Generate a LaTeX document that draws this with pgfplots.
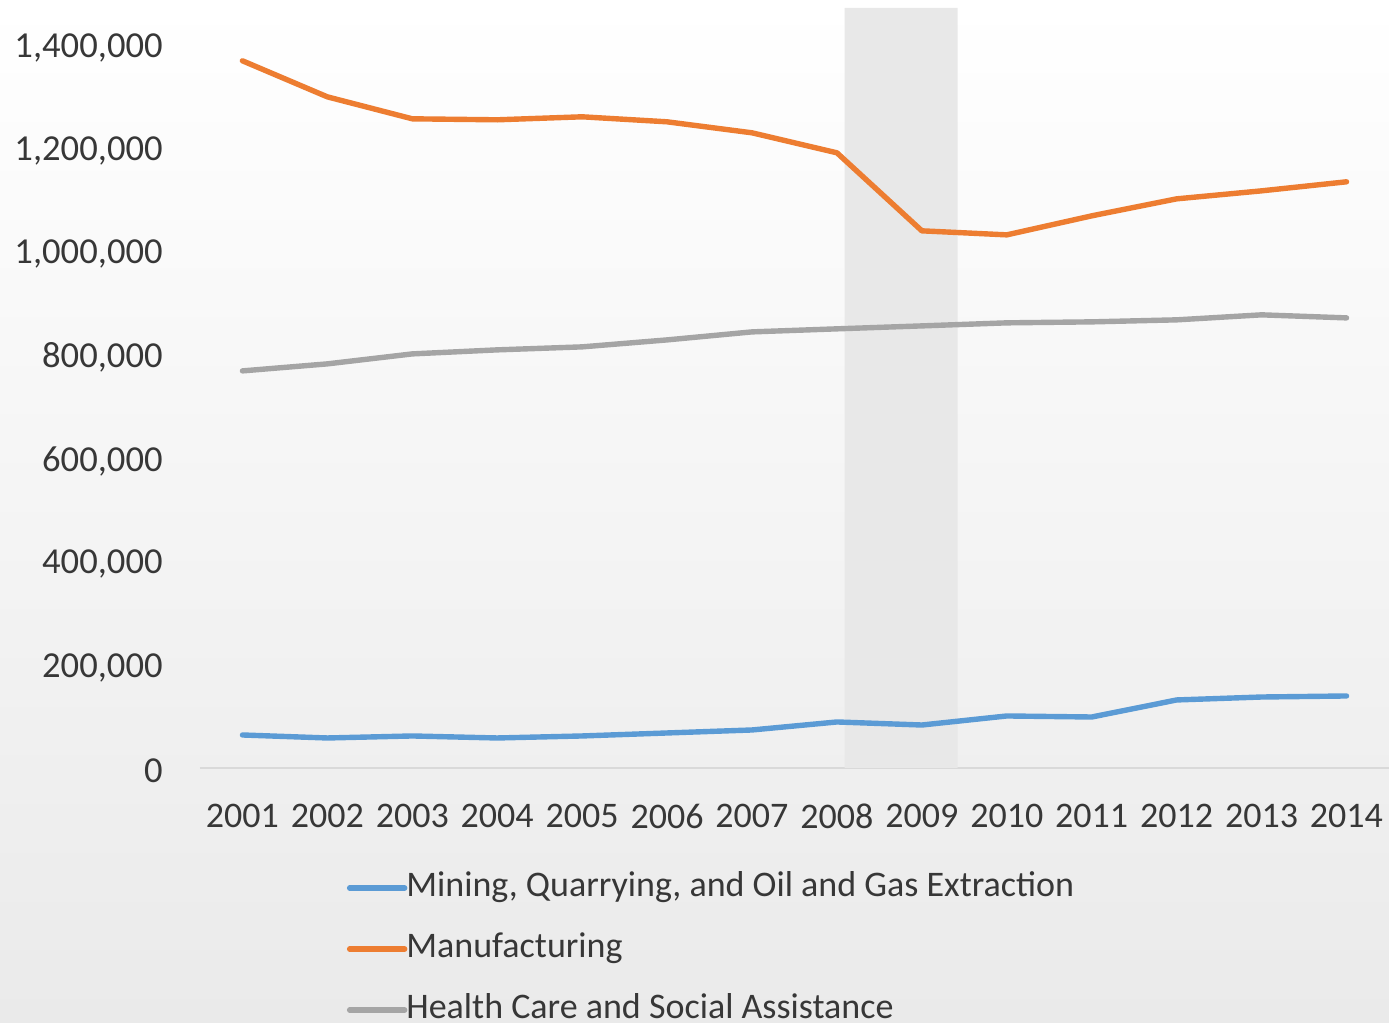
\documentclass[border=0pt]{standalone}
\usepackage{pgfplots}
\pgfplotsset{compat=1.18}
\usepackage{fontspec}
\setmainfont{Carlito}
\definecolor{cblue}{RGB}{91,155,213}
\definecolor{corange}{RGB}{237,125,49}
\definecolor{cgray}{RGB}{165,165,165}
\definecolor{txt}{RGB}{55,55,55}
\definecolor{band}{RGB}{232,232,232}
\definecolor{bgbot}{RGB}{234,234,234}
\definecolor{axl}{RGB}{217,217,217}
\begin{document}
\begin{tikzpicture}
\useasboundingbox (0,0) rectangle (694.5pt,511.5pt);
\shade[top color=white, bottom color=bgbot] (0,0) rectangle (694.5pt,511.5pt);
\clip (0,0) rectangle (694.5pt,511.5pt);
\begin{axis}[
  at={(100pt,127.5pt)}, anchor=south west,
  scale only axis, width=594.5pt, height=380pt,
  xmin=2000.5, xmax=2014.5, ymin=0, ymax=1471000,
  axis y line*=left, axis x line*=bottom,
  y axis line style={draw=none},
  x axis line style={draw=axl, line width=0.8pt, -},
  xtick={2001,...,2014},
  xticklabels={2001,2002,2003,2004,2005,2006,2007,2008,2009,2010,2011,2012,2013,2014},
  ytick={0,200000,400000,600000,800000,1000000,1200000,1400000},
  major tick length=0pt,
  scaled y ticks=false,
  yticklabel={\pgfmathprintnumber[fixed,1000 sep={,},assume math mode=true]{\tick}},
  yticklabel style={font=\fontsize{18.3}{22}\selectfont, text=txt, anchor=east, inner sep=0pt, xshift=-18.5pt, yshift=-1.5pt},
  xticklabel style={font=\fontsize{18}{22}\selectfont, text=txt, anchor=north, inner sep=0pt, yshift=-18pt},
  legend style={at={(0.1236,-0.1355)}, anchor=north west, draw=none, fill=none,
    inner sep=0pt, outer sep=0pt, row sep=13.5pt, column sep=-0.5pt,
    font=\fontsize{18}{22}\selectfont, text=txt,
    nodes={inner sep=0pt, text height=13pt, text depth=4pt}},
  legend cell align=left,
  legend image code/.code={\draw[#1] (0pt,0pt) -- (27.5pt,0pt);},
  every axis plot/.append style={line width=2.7pt, line join=round, line cap=round},
]
\addplot[fill=band, draw=none, forget plot, line width=0pt] coordinates {(2008.09,0) (2009.42,0) (2009.42,1471000) (2008.09,1471000)} \closedcycle;
\addplot[cblue] coordinates {
(2001,63900) (2002,58100) (2003,62000) (2004,58100) (2005,62000) (2006,67800) (2007,73600)
(2008,89100) (2009,83200) (2010,100700) (2011,98700) (2012,131700) (2013,137400) (2014,139400)};
\addlegendentry{Mining, Quarrying, and Oil and Gas Extraction}
\addplot[corange] coordinates {
(2001,1368800) (2002,1299000) (2003,1256500) (2004,1254600) (2005,1260400) (2006,1250700) (2007,1229400)
(2008,1190700) (2009,1039700) (2010,1031900) (2011,1068700) (2012,1101600) (2013,1117100) (2014,1134600)};
\addlegendentry{Manufacturing}
\addplot[cgray] coordinates {
(2001,768600) (2002,782200) (2003,801500) (2004,809300) (2005,815100) (2006,828600) (2007,844100)
(2008,850000) (2009,855700) (2010,861600) (2011,863500) (2012,867400) (2013,877100) (2014,871200)};
\addlegendentry{Health Care and Social Assistance}
\end{axis}
\end{tikzpicture}
\end{document}
